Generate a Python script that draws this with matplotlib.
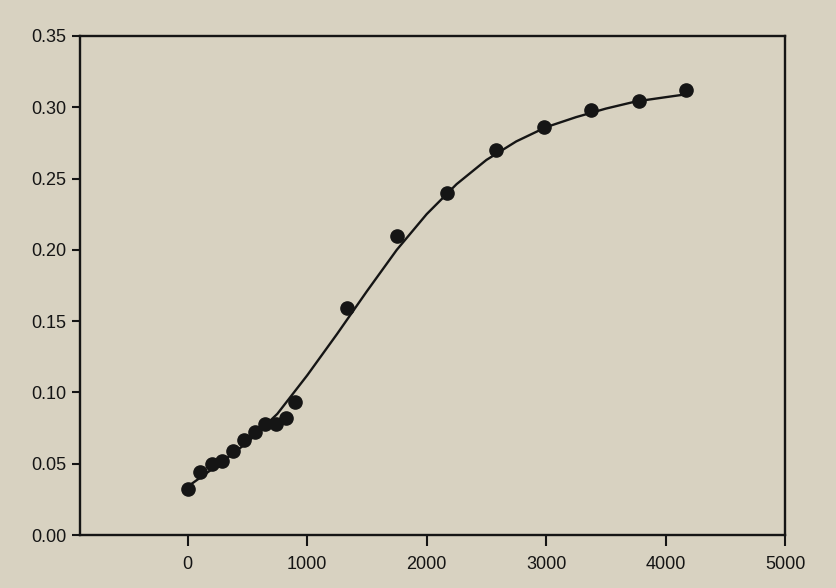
import matplotlib.pyplot as plt

plt.rcParams['font.family'] = ['Liberation Sans', 'DejaVu Sans']

# measured points
time = [0, 100, 200, 290, 380, 470, 560, 650, 740, 820, 900,
        1330, 1750, 2170, 2580, 2980, 3380, 3780, 4170]
value = [0.032, 0.044, 0.050, 0.052, 0.059, 0.067, 0.072, 0.078, 0.078, 0.082, 0.093,
         0.159, 0.210, 0.240, 0.270, 0.286, 0.298, 0.304, 0.312]

# fitted curve
fit_x = [0, 250, 500, 750, 1000, 1250, 1500, 1750, 2000, 2250, 2500,
         2750, 3000, 3250, 3500, 3750, 4000, 4170]
fit_y = [0.034, 0.049, 0.065, 0.085, 0.112, 0.141, 0.171, 0.200, 0.225, 0.246, 0.263,
         0.276, 0.286, 0.293, 0.299, 0.304, 0.307, 0.309]

xticks = [0, 1000, 2000, 3000, 4000, 5000]
yticks = [0.00, 0.05, 0.10, 0.15, 0.20, 0.25, 0.30, 0.35]

bg = '#d8d2c1'
ink = '#151515'

fig = plt.figure(figsize=(8.36, 5.88), dpi=100, facecolor=bg)
ax = fig.add_axes([0.096, 0.090, 0.843, 0.849], facecolor=bg)

ax.plot(fit_x, fit_y, color=ink, linewidth=1.7, zorder=2)
ax.plot(time, value, 'o', color=ink, markersize=9.5, zorder=3)

ax.set_xlim(-900, 5000)
ax.set_ylim(0, 0.35)
ax.set_xticks(xticks)
ax.set_yticks(yticks)
ax.set_yticklabels(['%.2f' % t for t in yticks])

for s in ax.spines.values():
    s.set_linewidth(1.7)
    s.set_color(ink)

ax.tick_params(axis='both', direction='out', width=1.5, color=ink,
               labelsize=13, labelcolor=ink)
ax.tick_params(axis='x', length=8, pad=7)
ax.tick_params(axis='y', length=6, pad=4)

fig.savefig('out.png', dpi=100, facecolor=bg)
